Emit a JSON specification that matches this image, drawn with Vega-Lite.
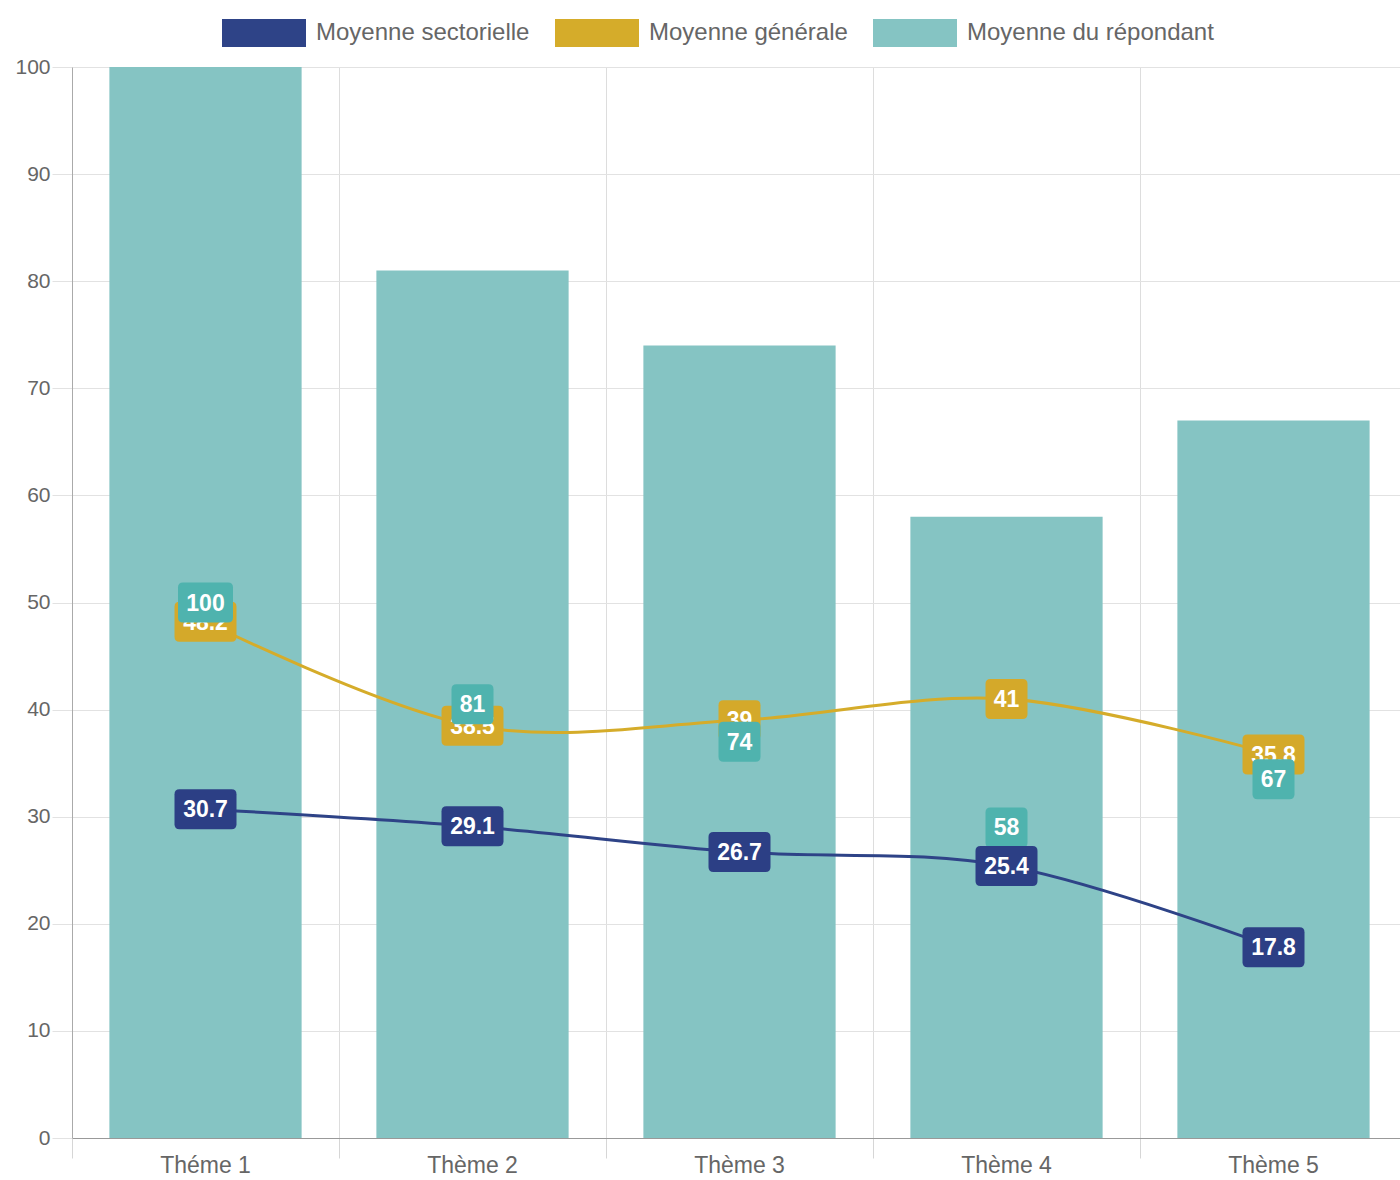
{
  "$schema": "https://vega.github.io/schema/vega-lite/v6.json",
  "width": 1335,
  "height": 1071,
  "autosize": {"type": "none"},
  "padding": {"left": 72, "top": 67, "right": 0, "bottom": 42},
  "background": "white",
  "config": {
    "view": {"stroke": null},
    "font": "Liberation Sans",
    "legend": {"padding": 0}
  },
  "data": {
    "values": [
      {"theme": "Théme 1", "serie": "Moyenne sectorielle", "v": 30.7},
      {"theme": "Thème 2", "serie": "Moyenne sectorielle", "v": 29.1},
      {"theme": "Thème 3", "serie": "Moyenne sectorielle", "v": 26.7},
      {"theme": "Thème 4", "serie": "Moyenne sectorielle", "v": 25.4},
      {"theme": "Thème 5", "serie": "Moyenne sectorielle", "v": 17.8},
      {"theme": "Théme 1", "serie": "Moyenne générale", "v": 48.2},
      {"theme": "Thème 2", "serie": "Moyenne générale", "v": 38.5},
      {"theme": "Thème 3", "serie": "Moyenne générale", "v": 39},
      {"theme": "Thème 4", "serie": "Moyenne générale", "v": 41},
      {"theme": "Thème 5", "serie": "Moyenne générale", "v": 35.8},
      {"theme": "Théme 1", "serie": "Moyenne du répondant", "v": 100},
      {"theme": "Thème 2", "serie": "Moyenne du répondant", "v": 81},
      {"theme": "Thème 3", "serie": "Moyenne du répondant", "v": 74},
      {"theme": "Thème 4", "serie": "Moyenne du répondant", "v": 58},
      {"theme": "Thème 5", "serie": "Moyenne du répondant", "v": 67}
    ]
  },
  "encoding": {
    "x": {
      "field": "theme",
      "type": "nominal",
      "sort": null,
      "scale": {"paddingInner": 0, "paddingOuter": 0},
      "axis": {
        "title": null,
        "bandPosition": 0,
        "labelAngle": 0,
        "grid": true,
        "gridColor": "#dddddd",
        "tickColor": "#d6d6d6",
        "tickSize": 20,
        "domainColor": "#999999",
        "labelFontSize": 23,
        "labelColor": "#666666",
        "labelPadding": -4,
        "labelOverlap": false
      }
    }
  },
  "layer": [
    {
      "transform": [{"filter": "datum.serie === 'Moyenne du répondant'"}],
      "mark": {"type": "bar", "width": {"band": 0.72}},
      "encoding": {
        "y": {
          "field": "v",
          "type": "quantitative",
          "scale": {"domain": [0, 100], "nice": false},
          "axis": {
            "title": null,
            "values": [0, 10, 20, 30, 40, 50, 60, 70, 80, 90, 100],
            "grid": true,
            "gridColor": "#e2e2e2",
            "tickColor": "#e2e2e2",
            "tickSize": 20,
            "domainColor": "#aaaaaa",
            "labelFontSize": 21,
            "labelColor": "#666666",
            "labelPadding": 2
          }
        },
        "color": {
          "field": "serie",
          "type": "nominal",
          "scale": {
            "domain": ["Moyenne sectorielle", "Moyenne générale", "Moyenne du répondant"],
            "range": ["#2e4387", "#d5ac2a", "#85c4c3"]
          },
          "legend": {
            "title": null,
            "orient": "none",
            "direction": "horizontal",
            "legendX": 178,
            "legendY": -48,
            "symbolType": "M-3,-1H3V1H-3Z",
            "symbolSize": 784,
            "symbolStrokeWidth": 0,
            "symbolOpacity": 1,
            "labelOffset": 38,
            "columnPadding": 25,
            "labelFontSize": 24,
            "labelColor": "#666666",
            "labelLimit": 400
          }
        }
      }
    },
    {
      "transform": [{"filter": "datum.serie === 'Moyenne générale'"}],
      "mark": {"type": "line", "interpolate": "cardinal", "tension": 0, "strokeWidth": 3, "color": "#d5ac2a"},
      "encoding": {
        "y": {"field": "v", "type": "quantitative"}
      }
    },
    {
      "transform": [{"filter": "datum.serie === 'Moyenne sectorielle'"}],
      "mark": {"type": "line", "interpolate": "cardinal", "tension": 0, "strokeWidth": 3, "color": "#2e4387"},
      "encoding": {
        "y": {"field": "v", "type": "quantitative"}
      }
    },
    {
      "transform": [{"filter": "datum.serie === 'Moyenne générale'"}],
      "mark": {
        "type": "point", "filled": true, "opacity": 1, "size": 1600, "color": "#d4a92a", "strokeWidth": 0,
        "shape": {"expr": "length(toString(datum.v)) >= 4 ? 'M-1.3,-1H1.3Q1.55,-1,1.55,-0.75V0.75Q1.55,1,1.3,1H-1.3Q-1.55,1,-1.55,0.75V-0.75Q-1.55,-1,-1.3,-1Z' : length(toString(datum.v)) == 3 ? 'M-1.125,-1H1.125Q1.375,-1,1.375,-0.75V0.75Q1.375,1,1.125,1H-1.125Q-1.375,1,-1.375,0.75V-0.75Q-1.375,-1,-1.125,-1Z' : 'M-0.8,-1H0.8Q1.05,-1,1.05,-0.75V0.75Q1.05,1,0.8,1H-0.8Q-1.05,1,-1.05,0.75V-0.75Q-1.05,-1,-0.8,-1Z'"}
      },
      "encoding": {
        "y": {"field": "v", "type": "quantitative"}
      }
    },
    {
      "transform": [{"filter": "datum.serie === 'Moyenne générale'"}],
      "mark": {"type": "text", "color": "white", "fontWeight": "bold", "fontSize": 23, "baseline": "middle", "align": "center", "dy": 1},
      "encoding": {
        "y": {"field": "v", "type": "quantitative"},
        "text": {"field": "v", "type": "quantitative"}
      }
    },
    {
      "transform": [{"filter": "datum.serie === 'Moyenne du répondant'"}],
      "mark": {
        "type": "point", "filled": true, "opacity": 1, "size": 1600, "color": "#4fb3ae", "strokeWidth": 0,
        "shape": {"expr": "length(toString(datum.v)) >= 4 ? 'M-1.3,-1H1.3Q1.55,-1,1.55,-0.75V0.75Q1.55,1,1.3,1H-1.3Q-1.55,1,-1.55,0.75V-0.75Q-1.55,-1,-1.3,-1Z' : length(toString(datum.v)) == 3 ? 'M-1.125,-1H1.125Q1.375,-1,1.375,-0.75V0.75Q1.375,1,1.125,1H-1.125Q-1.375,1,-1.375,0.75V-0.75Q-1.375,-1,-1.125,-1Z' : 'M-0.8,-1H0.8Q1.05,-1,1.05,-0.75V0.75Q1.05,1,0.8,1H-0.8Q-1.05,1,-1.05,0.75V-0.75Q-1.05,-1,-0.8,-1Z'"}
      },
      "encoding": {
        "y": {"field": "v", "type": "quantitative", "stack": "zero", "bandPosition": 0.5}
      }
    },
    {
      "transform": [{"filter": "datum.serie === 'Moyenne du répondant'"}],
      "mark": {"type": "text", "color": "white", "fontWeight": "bold", "fontSize": 23, "baseline": "middle", "align": "center", "dy": 1},
      "encoding": {
        "y": {"field": "v", "type": "quantitative", "stack": "zero", "bandPosition": 0.5},
        "text": {"field": "v", "type": "quantitative"}
      }
    },
    {
      "transform": [{"filter": "datum.serie === 'Moyenne sectorielle'"}],
      "mark": {
        "type": "point", "filled": true, "opacity": 1, "size": 1600, "color": "#2c3f85", "strokeWidth": 0,
        "shape": {"expr": "length(toString(datum.v)) >= 4 ? 'M-1.3,-1H1.3Q1.55,-1,1.55,-0.75V0.75Q1.55,1,1.3,1H-1.3Q-1.55,1,-1.55,0.75V-0.75Q-1.55,-1,-1.3,-1Z' : length(toString(datum.v)) == 3 ? 'M-1.125,-1H1.125Q1.375,-1,1.375,-0.75V0.75Q1.375,1,1.125,1H-1.125Q-1.375,1,-1.375,0.75V-0.75Q-1.375,-1,-1.125,-1Z' : 'M-0.8,-1H0.8Q1.05,-1,1.05,-0.75V0.75Q1.05,1,0.8,1H-0.8Q-1.05,1,-1.05,0.75V-0.75Q-1.05,-1,-0.8,-1Z'"}
      },
      "encoding": {
        "y": {"field": "v", "type": "quantitative"}
      }
    },
    {
      "transform": [{"filter": "datum.serie === 'Moyenne sectorielle'"}],
      "mark": {"type": "text", "color": "white", "fontWeight": "bold", "fontSize": 23, "baseline": "middle", "align": "center", "dy": 1},
      "encoding": {
        "y": {"field": "v", "type": "quantitative"},
        "text": {"field": "v", "type": "quantitative"}
      }
    }
  ]
}
